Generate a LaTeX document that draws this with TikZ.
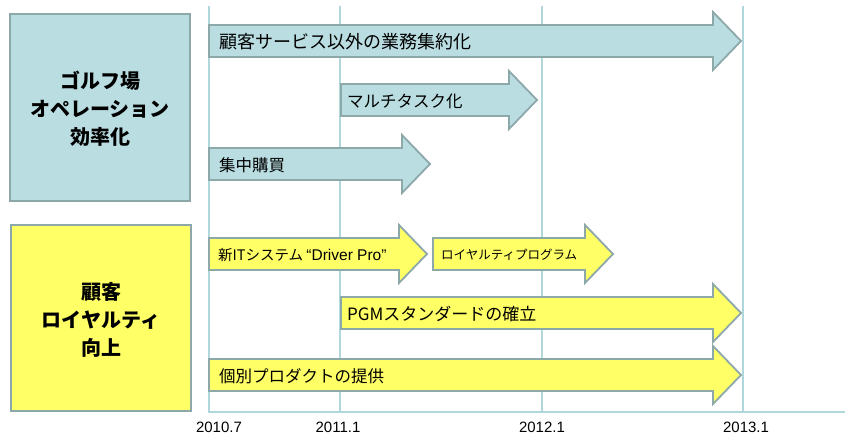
\documentclass[tikz,border=0pt]{standalone}
\usepackage{fontspec}
\setmainfont{Liberation Sans}
\newfontfamily\jp{Noto Sans CJK JP}
\definecolor{bluefill}{HTML}{B9DDE1}
\definecolor{edgegray}{HTML}{8DA8A9}
\definecolor{yelfill}{HTML}{FFFF66}
\definecolor{gridcol}{HTML}{B0D8DC}
\tikzset{
  gridline/.style={draw=gridcol, line width=1.6pt},
  sidebox/.style={draw=edgegray, line width=2.6pt},
  arrowshape/.style={draw=edgegray, line width=1.8pt, line join=miter},
  arrowlabel/.style={anchor=west, inner sep=0pt, font=\jp\fontsize{16.5}{18}\selectfont},
  sidelabel/.style={align=center, inner sep=0pt, font=\jp\bfseries\fontsize{20}{28}\selectfont},
  yearlabel/.style={inner sep=0pt, font=\fontsize{15}{17}\selectfont}
}
% #1 x start, #2 x tip, #3 y centre, #4 fill
\newcommand{\tlarrow}[4]{%
  \path[arrowshape, fill=#4] (#1,#3-16) -- ({#2-28},#3-16) -- ({#2-28},#3-29) -- (#2,#3)
    -- ({#2-28},#3+29) -- ({#2-28},#3+16) -- (#1,#3+16) -- cycle;}
\begin{document}
\begin{tikzpicture}[x=1pt,y=-1pt]
\useasboundingbox (0,0) rectangle (845,435);
% grid
\draw[gridline] (209,6) -- (209,412) -- (845,412);
\draw[gridline] (340,6) -- (340,412);
\draw[gridline] (542,6) -- (542,412);
\draw[gridline] (743,6) -- (743,412);
\node[yearlabel] (y1) at (219,427) {2010.7};
\node[yearlabel] (y2) at (338,427) {2011.1};
\node[yearlabel] (y3) at (542,427) {2012.1};
\node[yearlabel] (y4) at (746,427) {2013.1};
% side boxes
\draw[sidebox, fill=bluefill] (10,14) rectangle (190,201);
\node[sidelabel] (ops) at (100,109) {ゴルフ場\\オペレーション\\効率化};
\draw[sidebox, fill=yelfill] (11,225) rectangle (191,411);
\node[sidelabel] (loy) at (101,320) {顧客\\ロイヤルティ\\向上};
% blue arrows
\tlarrow{209}{741}{41}{bluefill}
\node[arrowlabel, font=\jp\fontsize{18}{20}\selectfont] (a1) at (219,42) {顧客サービス以外の業務集約化};
\tlarrow{341}{537}{100}{bluefill}
\node[arrowlabel] (a2) at (347,101) {マルチタスク化};
\tlarrow{209}{430}{164}{bluefill}
\node[arrowlabel] (a3) at (219,165) {集中購買};
% yellow arrows
\tlarrow{209}{427}{254}{yelfill}
\node[arrowlabel, font=\jp\fontsize{14.5}{16}\selectfont] (a4) at (218,255) {新ITシステム {\fontsize{15.5}{16}\selectfont\rmfamily “Driver Pro”}};
\tlarrow{433}{613}{254}{yelfill}
\node[arrowlabel, font=\jp\fontsize{12.5}{15}\selectfont] (a5) at (441,255) {ロイヤルティプログラム};
\tlarrow{341}{741}{313}{yelfill}
\node[arrowlabel, font=\jp\fontsize{17}{19}\selectfont] (a6) at (347,314) {PGMスタンダードの確立};
\tlarrow{209}{741}{375}{yelfill}
\node[arrowlabel] (a7) at (219,376) {個別プロダクトの提供};
\end{tikzpicture}
\end{document}
